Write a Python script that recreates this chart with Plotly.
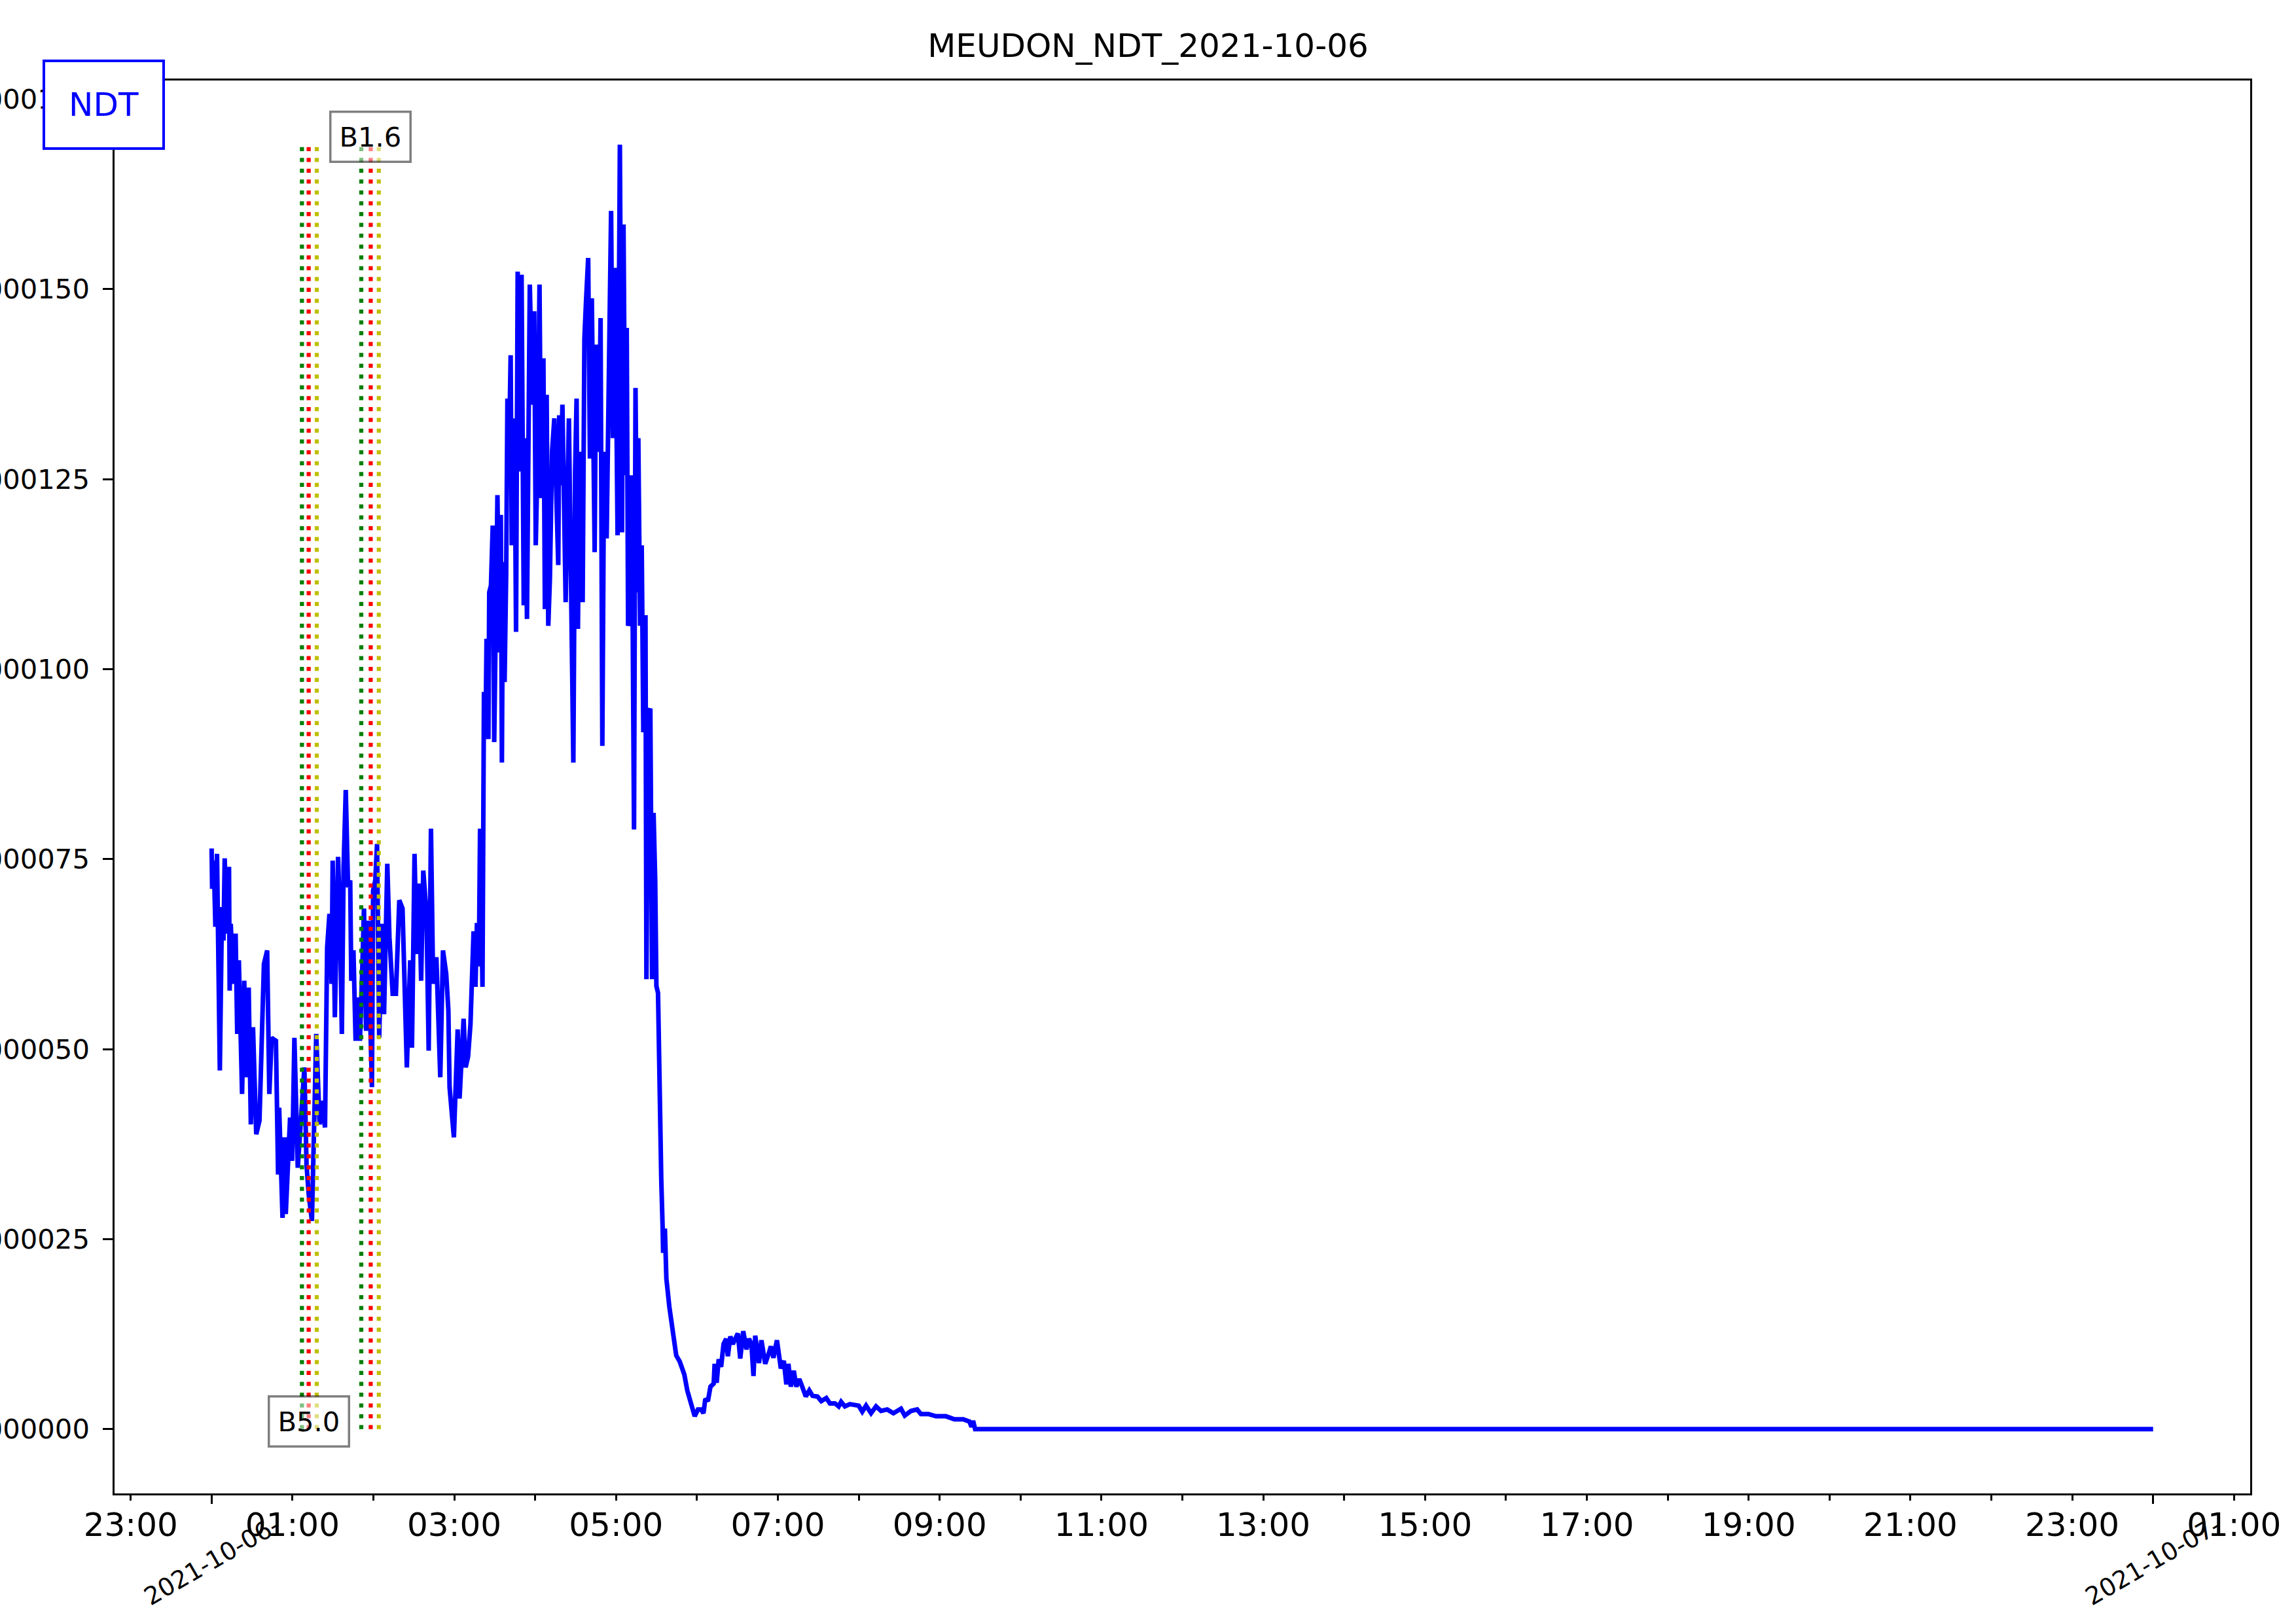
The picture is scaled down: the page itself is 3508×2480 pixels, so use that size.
import pandas as pd
import plotly.graph_objects as go

TITLE = "MEUDON_NDT_2021-10-06"
STATION = "NDT"
DAY = "2021-10-06"

# minutes after 2021-10-06 00:00 UTC
minutes = [
    0.0, 0.4, 1.6, 2.8, 4.0, 6.1, 7.7, 8.8, 9.7, 11.3, 12.9, 13.4, 14.2, 16.1, 17.8, 19.0,
    20.2, 21.3, 22.6, 24.2, 25.9, 27.5, 29.1, 30.7, 33.1, 35.5, 38.8, 41.2, 42.8, 44.5, 47.7,
    49.3, 50.1, 52.6, 54.2, 55.0, 58.2, 59.8, 61.4, 63.9, 66.3, 68.8, 70.4, 72.0, 74.4, 77.6,
    80.1, 81.7, 84.1, 85.7, 87.4, 89.0, 89.8, 91.4, 93.8, 95.2, 96.6, 97.9, 99.5, 101.2,
    102.8, 103.6, 105.2, 106.8, 108.4, 110.0, 111.7, 113.0, 114.6, 116.2, 117.3, 118.9,
    119.8, 121.4, 122.7, 124.3, 126.2, 127.9, 130.3, 131.9, 134.3, 136.7, 139.2, 141.6,
    144.8, 147.3, 148.6, 150.5, 152.2, 153.8, 155.4, 157.0, 159.4, 161.0, 162.7, 164.3,
    166.7, 169.6, 171.6, 174.0, 175.6, 176.5, 179.7, 182.5, 183.9, 185.4, 186.9, 188.4,
    190.2, 192.0, 194.3, 195.7, 196.8, 198.2, 199.1, 200.9, 202.0, 203.2, 203.9, 205.3,
    205.9, 207.2, 208.5, 209.6, 210.8, 212.0, 213.4, 214.5, 215.3, 216.1, 217.3, 218.5,
    219.4, 220.5, 221.8, 222.6, 224.7, 225.8, 227.0, 228.2, 229.9, 231.5, 232.3, 233.9,
    236.0, 238.0, 239.3, 240.4, 242.0, 243.2, 244.4, 246.1, 247.2, 248.5, 249.7, 250.9,
    252.5, 254.2, 255.5, 257.1, 257.8, 259.0, 260.2, 261.5, 262.6, 265.0, 267.1, 268.3,
    269.6, 270.7, 271.7, 272.9, 275.2, 276.5, 277.7, 279.3, 280.6, 282.0, 284.1, 285.2,
    287.3, 288.5, 289.8, 291.1, 293.0, 294.4, 296.3, 297.6, 299.2, 301.1, 302.8, 304.4,
    305.5, 306.8, 307.9, 308.9, 310.0, 311.6, 313.3, 314.4, 315.7, 316.5, 317.8, 319.0,
    320.2, 321.8, 322.5, 323.8, 325.4, 326.7, 327.8, 329.0, 329.9, 331.1, 331.9, 333.5,
    334.5, 334.9, 336.2, 337.3, 339.5, 342.2, 344.6, 347.2, 350.6, 352.8, 355.2, 358.3,
    360.7, 363.1, 364.8, 366.2, 368.1, 370.0, 372.4, 373.1, 374.6, 376.1, 377.9, 379.7,
    381.6, 382.9, 384.7, 386.6, 388.4, 390.3, 392.1, 394.3, 396.7, 398.6, 400.4, 401.9,
    403.2, 406.0, 407.8, 410.6, 413.3, 414.8, 416.7, 419.3, 422.2, 424.4, 426.3, 427.8,
    429.6, 431.8, 433.7, 435.9, 437.4, 440.7, 443.3, 445.7, 449.4, 452.2, 455.9, 458.6,
    462.3, 465.1, 466.9, 469.7, 473.4, 477.1, 479.9, 482.6, 485.4, 489.1, 492.8, 496.5,
    501.1, 505.7, 511.3, 514.1, 518.7, 523.3, 526.1, 531.6, 537.2, 544.6, 551.0, 557.5,
    562.1, 563.6, 564.8, 566.3, 1440.0,
]

# flux in W/m^2
flux = [
    76.4e-6, 71.1e-6, 74.8e-6, 66.1e-6, 75.7e-6, 47.2e-6, 68.7e-6, 64.3e-6, 75.1e-6, 65.2e-6,
    74.0e-6, 57.7e-6, 66.5e-6, 58.6e-6, 65.2e-6, 52.0e-6, 61.7e-6, 52.0e-6, 44.1e-6, 59.0e-6,
    46.3e-6, 58.1e-6, 40.1e-6, 52.9e-6, 38.8e-6, 40.6e-6, 61.2e-6, 63.0e-6, 44.1e-6, 51.5e-6,
    51.1e-6, 33.5e-6, 42.3e-6, 27.8e-6, 38.4e-6, 28.3e-6, 41.0e-6, 35.3e-6, 51.5e-6, 34.4e-6,
    41.0e-6, 47.6e-6, 34.8e-6, 30.9e-6, 27.4e-6, 52.0e-6, 40.1e-6, 43.2e-6, 39.7e-6, 63.4e-6,
    67.8e-6, 58.6e-6, 74.8e-6, 54.2e-6, 75.3e-6, 66.9e-6, 52.0e-6, 74.0e-6, 84.1e-6, 71.3e-6,
    72.2e-6, 59.0e-6, 63.0e-6, 51.1e-6, 56.8e-6, 51.1e-6, 60.3e-6, 68.5e-6, 52.4e-6, 66.9e-6,
    56.4e-6, 45.0e-6, 70.9e-6, 72.2e-6, 77.0e-6, 51.5e-6, 66.5e-6, 54.6e-6, 74.4e-6, 64.7e-6,
    57.3e-6, 57.3e-6, 69.6e-6, 68.5e-6, 47.6e-6, 61.7e-6, 50.2e-6, 75.7e-6, 62.5e-6, 71.8e-6,
    59.0e-6, 73.5e-6, 67.8e-6, 49.8e-6, 79.0e-6, 58.6e-6, 62.1e-6, 46.3e-6, 63.0e-6, 59.9e-6,
    55.1e-6, 45.0e-6, 38.4e-6, 52.6e-6, 43.5e-6, 48.0e-6, 54.0e-6, 47.6e-6, 49.0e-6, 53.3e-6,
    65.5e-6, 58.2e-6, 66.6e-6, 60.9e-6, 79.0e-6, 58.2e-6, 97.0e-6, 91.7e-6, 104.0e-6, 90.8e-6,
    110.1e-6, 111.0e-6, 118.9e-6, 90.4e-6, 114.5e-6, 122.9e-6, 102.2e-6, 120.3e-6, 87.7e-6, 114.1e-6,
    98.3e-6, 112.8e-6, 135.6e-6, 127.7e-6, 141.3e-6, 116.3e-6, 133.0e-6, 104.9e-6, 152.3e-6, 126.0e-6,
    151.9e-6, 108.4e-6, 130.4e-6, 106.6e-6, 150.6e-6, 134.8e-6, 147.1e-6, 116.3e-6, 129.5e-6, 150.6e-6,
    122.5e-6, 140.9e-6, 107.9e-6, 136.1e-6, 105.7e-6, 111.9e-6, 128.6e-6, 133.0e-6, 124.2e-6, 113.7e-6,
    133.4e-6, 124.2e-6, 134.8e-6, 120.7e-6, 108.8e-6, 133.0e-6, 109.3e-6, 87.7e-6, 126.0e-6, 135.6e-6,
    105.3e-6, 128.6e-6, 108.8e-6, 143.5e-6, 148.4e-6, 154.1e-6, 127.7e-6, 148.8e-6, 115.4e-6, 142.7e-6,
    128.6e-6, 146.2e-6, 89.9e-6, 128.6e-6, 117.2e-6, 134.8e-6, 160.3e-6, 130.4e-6, 152.8e-6, 117.6e-6,
    169.0e-6, 118.0e-6, 158.5e-6, 125.5e-6, 144.9e-6, 105.7e-6, 106.6e-6, 125.5e-6, 78.9e-6, 137.0e-6,
    110.1e-6, 130.4e-6, 105.7e-6, 116.3e-6, 91.7e-6, 107.1e-6, 59.2e-6, 94.3e-6, 94.8e-6, 59.2e-6,
    81.1e-6, 72.3e-6, 58.3e-6, 57.4e-6, 46.0e-6, 32.9e-6, 26.7e-6, 23.2e-6, 26.4e-6, 19.8e-6,
    16.1e-6, 13.2e-6, 9.7e-6, 8.9e-6, 7.2e-6, 5.1e-6, 3.7e-6, 1.7e-6, 2.6e-6, 2.6e-6,
    2.1e-6, 4.0e-6, 3.7e-6, 5.6e-6, 6.0e-6, 8.6e-6, 6.1e-6, 9.2e-6, 8.2e-6, 11.2e-6,
    11.9e-6, 9.6e-6, 12.2e-6, 11.2e-6, 11.9e-6, 12.6e-6, 9.3e-6, 12.9e-6, 10.5e-6, 11.9e-6,
    11.2e-6, 7.0e-6, 12.3e-6, 8.7e-6, 11.7e-6, 8.6e-6, 10.0e-6, 10.9e-6, 9.4e-6, 11.7e-6,
    8.0e-6, 9.0e-6, 5.9e-6, 8.6e-6, 5.6e-6, 7.7e-6, 5.6e-6, 6.6e-6, 5.9e-6, 4.3e-6,
    5.1e-6, 4.4e-6, 4.3e-6, 3.7e-6, 4.1e-6, 3.4e-6, 3.4e-6, 3.0e-6, 3.6e-6, 3.0e-6,
    3.3e-6, 3.1e-6, 3.1e-6, 2.3e-6, 3.1e-6, 2.1e-6, 3.0e-6, 2.4e-6, 2.6e-6, 2.1e-6,
    2.7e-6, 1.8e-6, 2.4e-6, 2.6e-6, 2.0e-6, 2.0e-6, 1.7e-6, 1.7e-6, 1.3e-6, 1.3e-6,
    1.0e-6, 0.3e-6, 1.1e-6, 0.0, 0.0,
]

# flare events (UTC)
flare_start = ["01:07", "01:51"]
flare_peak = ["01:12", "01:58"]
flare_end = ["01:18", "02:04"]
flare_class = ["B5.0", "B1.6"]
flare_label_at = ["bottom", "top"]

ytick_vals = [0.0, 25e-6, 50e-6, 75e-6, 100e-6, 125e-6, 150e-6, 175e-6]
hour_ticks = list(range(-1, 26))          # hours relative to DAY 00:00
date_ticks = ["2021-10-06", "2021-10-07"]
date_tick_text = ["2021-10-06-", "2021-10-07-"]

FONT = "DejaVu Sans"
W, H = 3508, 2480
ML, MR, MT, MB = 175, 70, 123, 198
PW, PH = W - ML - MR, H - MT - MB

base = pd.Timestamp(DAY)
times = base + pd.to_timedelta(minutes, unit="min")
t0, t1 = times.min(), times.max()
pad = (t1 - t0) * 0.05
xrange = [(t0 - pad).to_pydatetime(), (t1 + pad).to_pydatetime()]
ymax = max(flux)
yrange = [-0.05 * ymax, 1.05 * ymax]


def at(hhmm):
    return base + pd.Timedelta(hours=int(hhmm[:2]), minutes=int(hhmm[3:]))


fig = go.Figure()
fig.add_trace(go.Scatter(x=times, y=flux, mode="lines",
                         line=dict(color="#0000FF", width=7), showlegend=False,
                         hoverinfo="skip"))

for series, color in [(flare_start, "#008000"), (flare_peak, "#FF0000"), (flare_end, "#BFBF00")]:
    xs, ys = [], []
    for s in series:
        xs += [at(s), at(s), None]
        ys += [0, ymax, None]
    fig.add_trace(go.Scatter(x=xs, y=ys, mode="lines", xaxis="x2", yaxis="y",
                             line=dict(color=color, width=6.25, dash="6.25px,10.3px"),
                             showlegend=False, hoverinfo="skip"))

annotations = []
for pk, cls, pos in zip(flare_peak, flare_class, flare_label_at):
    annotations.append(dict(
        x=at(pk), y=(0 if pos == "bottom" else ymax), xref="x", yref="y",
        text=cls, showarrow=False, xanchor="center", yanchor="middle", yshift=12,
        font=dict(family=FONT, size=41.7, color="black"),
        bgcolor="rgba(255,255,255,0.5)", bordercolor="rgba(0,0,0,0.5)",
        borderwidth=3.5, borderpad=12))

for d, txt in zip(date_ticks, date_tick_text):
    annotations.append(dict(
        x=pd.Timestamp(d), y=-(2385 - (MT + PH)) / PH, xref="x", yref="paper",
        text=txt, showarrow=False, textangle=-30, xanchor="center", yanchor="middle",
        font=dict(family=FONT, size=37.5, color="black")))

annotations.append(dict(
    x=(158 - ML) / PW, y=(MT + PH - 159.5) / PH, xref="paper", yref="paper",
    text=STATION, showarrow=False, xanchor="center", yanchor="middle",
    font=dict(family=FONT, size=50, color="#0000FF"),
    bgcolor="white", bordercolor="#0000FF", borderwidth=4, borderpad=36))

hour_vals = [base + pd.Timedelta(hours=h) for h in hour_ticks]
hour_text = [f"{h % 24:02d}:00" if h % 2 else "" for h in hour_ticks]

fig.update_layout(
    template="none",
    width=W, height=H,
    margin=dict(l=ML, r=MR, t=MT, b=MB, pad=0, autoexpand=False),
    paper_bgcolor="white", plot_bgcolor="white",
    font=dict(family=FONT, color="black"),
    title=dict(text=TITLE, x=0.5, xref="container", xanchor="center",
               y=1 - 69 / H, yref="container", yanchor="middle",
               font=dict(family=FONT, size=50, color="black")),
    xaxis=dict(type="date", range=xrange, tickmode="array", tickvals=hour_vals,
               ticktext=hour_text, ticks="outside", ticklen=8.3, tickwidth=2.5,
               tickcolor="black", tickfont=dict(family=FONT, size=50, color="black"),
               ticklabelstandoff=-6, automargin=False,
               showline=True, mirror=True, linecolor="black", linewidth=3.3,
               showgrid=False, zeroline=False),
    xaxis2=dict(type="date", range=xrange, overlaying="x", anchor="y", side="bottom",
                tickmode="array", tickvals=[pd.Timestamp(d) for d in date_ticks],
                ticks="outside", ticklen=14.6, tickwidth=3.3, tickcolor="black",
                showticklabels=False, showline=False, showgrid=False, zeroline=False,
                automargin=False),
    yaxis=dict(range=yrange, tickmode="array", tickvals=ytick_vals, tickformat=".6f",
               ticks="outside", ticklen=14.6, tickwidth=3.3, tickcolor="black",
               tickfont=dict(family=FONT, size=41.7, color="black"),
               ticklabelstandoff=12, automargin=False,
               showline=True, mirror=True, linecolor="black", linewidth=3.3,
               showgrid=False, zeroline=False),
    annotations=annotations,
)

fig.write_html("out.html", config={"displayModeBar": False},
               post_script="document.body.style.margin='0';document.body.style.overflow='hidden';")
